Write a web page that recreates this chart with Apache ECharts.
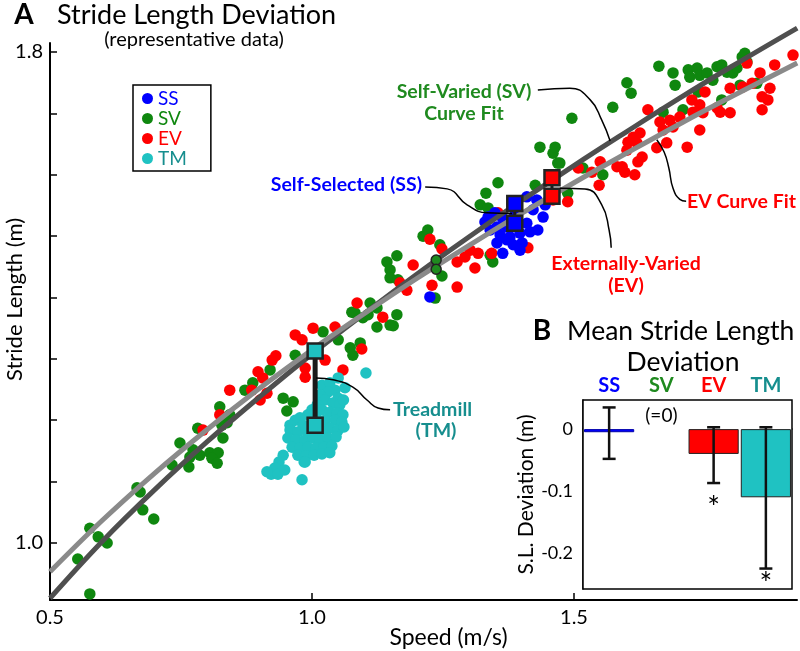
<!DOCTYPE html>
<html><head><meta charset="utf-8">
<script src="https://cdn.jsdelivr.net/npm/echarts@6/dist/echarts.min.js"></script>
<style>html,body{margin:0;padding:0;background:#fff}#c{width:800px;height:651px}</style>
</head><body><div id="c"></div>
<script>
// ---------- DATA ----------
const ssPoints = [
[1.336,1.531],[1.349,1.538],[1.363,1.530],[1.353,1.515],[1.372,1.515],[1.340,1.510],[1.359,1.502],
[1.378,1.499],[1.397,1.505],[1.416,1.507],[1.431,1.510],[1.410,1.521],[1.422,1.543],[1.429,1.559],
[1.441,1.531],[1.410,1.564],[1.384,1.486],[1.397,1.477],[1.364,1.472],[1.353,1.489],[1.372,1.494],
[1.387,1.534],[1.330,1.523],[1.401,1.489],[1.445,1.551],[1.225,1.401]
];
const svPoints = [
[0.576,0.917],[0.553,0.974],[0.576,1.024],[0.592,1.010],[0.609,1.000],
[0.666,1.090],[0.672,1.083],[0.677,1.054],[0.698,1.039],[0.733,1.127],
[0.748,1.163],[0.765,1.124],[0.767,1.140],[0.773,1.152],[0.782,1.187],
[0.786,1.143],[0.805,1.147],[0.821,1.147],[0.809,1.138],[0.819,1.130],
[0.824,1.222],[0.830,1.171],[0.838,1.196],[0.843,1.209],[0.828,1.192],
[0.872,1.249],[0.887,1.261],[0.920,1.282],[0.945,1.236],[0.964,1.230],
[0.952,1.215],[0.968,1.306],[1.021,1.344],[1.050,1.331],[1.073,1.318],
[1.078,1.306],[1.092,1.326],[1.076,1.376],[1.097,1.367],[1.111,1.391],
[1.124,1.352],[1.155,1.354],[1.162,1.372],[1.082,1.375],[1.107,1.372],
[1.124,1.383],[1.149,1.355],[1.143,1.458],[1.162,1.468],[1.149,1.445],
[1.149,1.432],[1.164,1.429],[1.212,1.500],[1.221,1.510],[1.244,1.486],
[1.248,1.435],[1.235,1.399],[1.340,1.469],[1.345,1.458],[1.321,1.551],
[1.336,1.546],[1.332,1.570],[1.355,1.587],[1.426,1.583],[1.460,1.635],
[1.469,1.619],[1.435,1.645],[1.464,1.645],[1.488,1.570],[1.496,1.692],
[1.473,1.619],[1.517,1.611],[1.555,1.600],[1.574,1.710],[1.601,1.750],
[1.609,1.733],[1.662,1.777],[1.689,1.766],[1.693,1.746],[1.718,1.771],
[1.735,1.774],[1.721,1.759],[1.740,1.762],[1.754,1.766],[1.765,1.754],
[1.773,1.776],[1.782,1.779],[1.792,1.767],[1.803,1.766],[1.811,1.774],
[1.826,1.798],[1.821,1.792],[1.830,1.784],[1.737,1.735],[1.782,1.722],
[1.817,1.746],[1.849,1.749],[1.670,1.702],[1.708,1.706]
];
const evPoints = [
[0.792,1.184],[0.824,1.209],[0.843,1.249],[0.885,1.249],[0.897,1.279],[0.906,1.269],
[0.901,1.233],[0.914,1.244],[0.924,1.298],[0.931,1.305],[0.968,1.339],[0.981,1.331],
[1.002,1.350],[0.987,1.285],[0.987,1.270],[1.025,1.298],[1.044,1.352],[1.059,1.282],
[1.095,1.316],[1.086,1.391],[1.135,1.368],[1.193,1.453],[1.168,1.424],[1.181,1.412],
[1.225,1.495],[1.248,1.479],[1.229,1.420],[1.277,1.417],[1.311,1.448],[1.277,1.458],
[1.292,1.466],[1.317,1.472],[1.343,1.472],[1.302,1.477],[1.412,1.481],[1.488,1.556],
[1.460,1.559],[1.355,1.538],[1.508,1.611],[1.534,1.604],[1.550,1.621],[1.548,1.583],
[1.582,1.613],[1.592,1.613],[1.597,1.604],[1.601,1.640],[1.603,1.653],[1.613,1.661],
[1.620,1.652],[1.626,1.668],[1.630,1.629],[1.622,1.621],[1.616,1.600],[1.641,1.706],
[1.664,1.686],[1.683,1.689],[1.702,1.694],[1.689,1.678],[1.670,1.673],[1.677,1.652],
[1.658,1.644],[1.740,1.673],[1.716,1.645],[1.725,1.722],[1.740,1.714],[1.727,1.702],
[1.746,1.701],[1.773,1.709],[1.779,1.702],[1.750,1.735],[1.798,1.741],[1.798,1.701],
[1.822,1.743],[1.840,1.749],[1.830,1.782],[1.855,1.766],[1.883,1.779],[1.918,1.795],
[1.874,1.741],[1.859,1.727],[1.870,1.722],[1.859,1.706]
];
const tmPoints = [
[1.019,1.257],[1.034,1.261],[1.044,1.249],[1.031,1.246],[1.015,1.241],[1.050,1.236],
[1.025,1.233],[1.040,1.228],[1.053,1.225],[1.010,1.225],[1.000,1.217],[1.019,1.217],
[1.034,1.213],[1.048,1.212],[1.059,1.209],[0.992,1.209],[0.977,1.204],[1.008,1.204],
[1.025,1.200],[1.044,1.200],[1.057,1.197],[0.968,1.200],[0.958,1.192],[0.983,1.192],
[0.996,1.192],[0.958,1.184],[0.973,1.181],[0.989,1.184],[1.006,1.181],[1.019,1.184],
[1.034,1.187],[1.050,1.184],[1.061,1.189],[0.954,1.171],[0.969,1.168],[0.987,1.168],
[1.002,1.171],[1.015,1.168],[1.031,1.171],[1.046,1.173],[0.962,1.156],[0.977,1.155],
[0.992,1.156],[1.008,1.155],[1.023,1.156],[1.038,1.158],[0.973,1.143],[0.989,1.142],
[1.004,1.143],[1.019,1.145],[1.034,1.147],[0.985,1.132],[0.945,1.143],[0.937,1.132],
[0.929,1.122],[0.922,1.112],[0.935,1.112],[0.948,1.119],[0.914,1.116],[0.981,1.103],
[0.987,1.132],[1.103,1.277],[1.050,1.269],[1.063,1.253],[1.060,1.233]
];
// curve fits
const svFitCurve = [[0.5,0.910],[0.6,1.003],[0.7,1.087],[0.8,1.165],[0.9,1.238],[1.0,1.308],[1.1,1.374],
[1.2,1.438],[1.3,1.499],[1.4,1.558],[1.5,1.615],[1.6,1.670],[1.7,1.724],[1.8,1.776],[1.926,1.839]];
const evFitCurve = [[0.5,0.953],[0.6,1.037],[0.7,1.114],[0.8,1.185],[0.9,1.252],[1.0,1.315],[1.1,1.374],
[1.2,1.431],[1.3,1.485],[1.4,1.537],[1.5,1.587],[1.6,1.635],[1.7,1.682],[1.8,1.727],[1.926,1.782]];
// mean markers (SV-curve value, EV-curve value)
const ssMeans = [[1.387,1.553],[1.387,1.521]];
const evMeans = [[1.458,1.595],[1.458,1.565]];
const tmMeans = [[1.006,1.313],[1.006,1.192]];
const svMeans = [[1.237,1.461],[1.237,1.446]];
// annotation leader lines (data coords)
const svLeader = [[1.431,1.738],[1.492,1.741],[1.531,1.722],[1.553,1.689],[1.569,1.655]];
const ssLeader = [[1.216,1.580],[1.258,1.577],[1.296,1.551],[1.334,1.538],[1.382,1.537]];
const evLeader = [[1.473,1.578],[1.521,1.577],[1.553,1.551],[1.567,1.510],[1.571,1.481]];
const evFitLeader = [[1.658,1.657],[1.672,1.637],[1.681,1.611],[1.689,1.578],[1.702,1.560],[1.714,1.557]];
const tmLeader = [[1.008,1.269],[1.040,1.266],[1.078,1.254],[1.105,1.233],[1.126,1.220],[1.149,1.217]];
// axes
const xTicks = [0.5, 1.0, 1.5];
const yTicks = [1.0, 1.1, 1.2, 1.3, 1.4, 1.5, 1.6, 1.7, 1.8];
const yLabels = [1.0, 1.8];
// panel B
const barCategories = ['SS', 'SV', 'EV', 'TM'];
const barValues = [-0.005, 0, -0.040, -0.110];
const errUpper = [0.035, null, 0.003, 0.003];
const errLower = [-0.048, null, -0.087, -0.225];
const starValues = [null, null, -0.122, -0.244];
const bTicks = [0, -0.1, -0.2];

// ---------- STYLE ----------
const F = 'Lato';
const cBlue = '#0000ff', cGreen = '#0f870f', cRed = '#ff0000', cCyan = '#1fc2c2', cTeal = '#168e8e';
const catColors = {SS: cBlue, SV: '#1f8a1f', EV: cRed, TM: cTeal};
const barColors = [cBlue, 'rgba(0,0,0,0)', cRed, cCyan];

const chart = echarts.init(document.getElementById('c'));

function scatter(name, data, color) {
  return {name, type: 'scatter', data, symbolSize: 11.5, itemStyle: {color, opacity: 1}, z: 2, silent: true,
    xAxisIndex: 0, yAxisIndex: 0};
}
function curve(name, data, color, width, z) {
  return {name, type: 'line', data, smooth: 0.4, symbol: 'none', clip: false, silent: true,
    lineStyle: {color, width}, z, xAxisIndex: 0, yAxisIndex: 0};
}
function means(name, data, color, lineW, size, symbol, bw) {
  return {name, type: 'line', data, symbol, symbolSize: size, showSymbol: true, clip: false, silent: true,
    lineStyle: {color: '#1a1a1a', width: lineW},
    itemStyle: {color, borderColor: '#222', borderWidth: bw}, z: 6, xAxisIndex: 0, yAxisIndex: 0};
}
function leader(name, data) {
  return {name, type: 'line', data, smooth: 0.5, symbol: 'none', clip: false, silent: true,
    lineStyle: {color: '#000', width: 1.5}, z: 7, xAxisIndex: 0, yAxisIndex: 0};
}
function txt(text, x, y, font, fill, align) {
  return {type: 'text', x, y, z: 20, style: {text, font, fill, align: align || 'center', verticalAlign: 'middle'}};
}

const errData = barCategories.map((c, i) => [i, errUpper[i] == null ? NaN : errUpper[i],
  errLower[i] == null ? NaN : errLower[i], starValues[i] == null ? NaN : starValues[i]]);

const option = {
  animation: false,
  backgroundColor: '#fff',
  textStyle: {fontFamily: F},
  legend: {
    data: [
      {name: 'SS', textStyle: {color: cBlue}},
      {name: 'SV', textStyle: {color: cGreen}},
      {name: 'EV', textStyle: {color: cRed}},
      {name: 'TM', textStyle: {color: cTeal}}
    ],
    orient: 'vertical', left: 133, top: 85, icon: 'circle', itemWidth: 11, itemHeight: 11, itemGap: 1,
    padding: [4, 24, 3, 9], borderColor: '#000', borderWidth: 1.5, selectedMode: false,
    textStyle: {fontSize: 19, fontFamily: F}
  },
  grid: [
    {left: 50, top: 43, width: 747, height: 557, outerBoundsMode: 'none', containLabel: false},
    {left: 583, top: 400, width: 209, height: 189, show: true, borderColor: '#000', borderWidth: 1.5,
      backgroundColor: '#fff', z: 1, outerBoundsMode: 'none', containLabel: false}
  ],
  xAxis: [
    {type: 'value', gridIndex: 0, min: 0.5, max: 1.9256,
      axisLine: {lineStyle: {color: '#000', width: 2}},
      axisTick: {inside: true, length: 7, lineStyle: {color: '#000', width: 1.5}, customValues: xTicks},
      axisLabel: {customValues: xTicks, formatter: v => v.toFixed(1), color: '#000', fontSize: 20, margin: 8},
      splitLine: {show: false},
      name: 'Speed (m/s)', nameLocation: 'middle', nameGap: 26, nameMoveOverlap: false,
      nameTextStyle: {fontSize: 23, color: '#000', padding: [0, 0, 0, 50]}},
    {type: 'category', gridIndex: 1, data: barCategories,
      axisLine: {onZero: true, lineStyle: {color: '#000', width: 1.5}}, axisTick: {show: false},
      axisLabel: {show: false}},
    {type: 'category', gridIndex: 1, data: barCategories, position: 'top',
      axisLine: {show: false}, axisTick: {show: false},
      axisLabel: {interval: 0, margin: 4, formatter: v => '{' + v + '|' + v + '}',
        rich: Object.fromEntries(barCategories.map(c => [c, {color: catColors[c], fontWeight: 'bold', fontSize: 20, fontFamily: F}]))}}
  ],
  yAxis: [
    {type: 'value', gridIndex: 0, min: 0.9071, max: 1.8147,
      axisLine: {lineStyle: {color: '#000', width: 2}},
      axisTick: {inside: true, length: 7, lineStyle: {color: '#000', width: 1.5}, customValues: yTicks},
      axisLabel: {customValues: yLabels, formatter: v => v.toFixed(1), color: '#000', fontSize: 20, margin: 7},
      splitLine: {show: false},
      name: 'Stride Length (m)', nameLocation: 'middle', nameGap: 24, nameMoveOverlap: false,
      nameTextStyle: {fontSize: 22, color: '#000', padding: [0, 0, 0, 44]}},
    {type: 'value', gridIndex: 1, min: -0.258, max: 0.047,
      axisLine: {show: true, onZero: false, lineStyle: {color: '#000', width: 1.5}},
      axisTick: {inside: true, length: 7, lineStyle: {color: '#000', width: 1.5}, customValues: bTicks},
      axisLabel: {customValues: bTicks, formatter: v => (Math.abs(v) < 1e-9 ? '0' : v.toFixed(1)), color: '#000', fontSize: 18, margin: 10},
      splitLine: {show: false},
      name: 'S.L. Deviation (m)', nameLocation: 'middle', nameGap: 46, nameMoveOverlap: false,
      nameTextStyle: {fontSize: 21, color: '#000'}}
  ],
  series: [
    scatter('SV', svPoints, cGreen),
    scatter('EV', evPoints, cRed),
    scatter('SS', ssPoints, cBlue),
    scatter('TM', tmPoints, cCyan),
    curve('SV fit', svFitCurve, '#4f4f4f', 5, 3),
    curve('EV fit', evFitCurve, '#8a8a8a', 5, 4),
    means('TM mean', tmMeans, cCyan, 5, 15, 'rect', 2.5),
    means('SS mean', ssMeans, cBlue, 3, 15, 'rect', 2.5),
    means('EV mean', evMeans, cRed, 3, 15, 'rect', 2.5),
    means('SV mean', svMeans, '#1f8a1f', 1.5, 10, 'circle', 1.5),
    leader('lead SV', svLeader),
    leader('lead SS', ssLeader),
    leader('lead EV', evLeader),
    leader('lead EVfit', evFitLeader),
    leader('lead TM', tmLeader),
    {name: 'Mean deviation', type: 'bar', xAxisIndex: 1, yAxisIndex: 1, barCategoryGap: '4%', silent: true,
      data: barValues.map((v, i) => ({value: v, itemStyle: {color: barColors[i],
        borderColor: i === 0 ? '#0000aa' : (v === 0 ? 'rgba(0,0,0,0)' : '#222'), borderWidth: 1}})),
      label: {show: true, formatter: p => (p.value === 0 ? '(=0)' : ''), position: 'top', distance: 3,
        color: '#000', fontSize: 19, fontFamily: F}, z: 3},
    {name: 'Error', type: 'custom', xAxisIndex: 1, yAxisIndex: 1, data: errData, silent: true, z: 5,
      encode: {x: 0, y: [1, 2]},
      renderItem: function (params, api) {
        const i = api.value(0), hi = api.value(1), lo = api.value(2), st = api.value(3);
        const ch = [];
        if (!isNaN(hi)) {
          const a = api.coord([i, hi]), b = api.coord([i, lo]);
          const w = 6.5, s = {stroke: '#111', lineWidth: 2.5};
          ch.push({type: 'line', shape: {x1: a[0], y1: a[1], x2: b[0], y2: b[1]}, style: s});
          ch.push({type: 'line', shape: {x1: a[0] - w, y1: a[1], x2: a[0] + w, y2: a[1]}, style: s});
          ch.push({type: 'line', shape: {x1: b[0] - w, y1: b[1], x2: b[0] + w, y2: b[1]}, style: s});
        }
        if (!isNaN(st)) {
          const c = api.coord([i, st]);
          ch.push({type: 'text', x: c[0], y: c[1] + 4, style: {text: '*', font: '30px ' + F, fill: '#000',
            align: 'center', verticalAlign: 'middle'}});
        }
        return {type: 'group', children: ch};
      }}
  ],
  graphic: [
    txt('A', 24, 15, 'bold 28px ' + F, '#000'),
    txt('Stride Length Deviation', 57, 15, '27px ' + F, '#000', 'left'),
    txt('(representative data)', 194, 40, '20px ' + F, '#000'),
    txt('Self-Varied (SV)', 464, 92, 'bold 19.5px ' + F, '#1f8a1f'),
    txt('Curve Fit', 464, 114, 'bold 19.5px ' + F, '#1f8a1f'),
    txt('Self-Selected (SS)', 422, 185, 'bold 19.5px ' + F, cBlue, 'right'),
    txt('Externally-Varied', 626, 264, 'bold 19.5px ' + F, cRed),
    txt('(EV)', 626, 286, 'bold 19.5px ' + F, cRed),
    txt('EV Curve Fit', 687, 202, 'bold 19.5px ' + F, cRed, 'left'),
    txt('Treadmill', 393, 410, 'bold 19.5px ' + F, cTeal, 'left'),
    txt('(TM)', 436, 431, 'bold 19.5px ' + F, cTeal),
    txt('B', 542, 331, 'bold 28px ' + F, '#000'),
    txt('Mean Stride Length', 567, 331, '26.5px ' + F, '#000', 'left'),
    txt('Deviation', 683, 362, '26.5px ' + F, '#000')
  ]
};
chart.setOption(option);
</script>
</body></html>
